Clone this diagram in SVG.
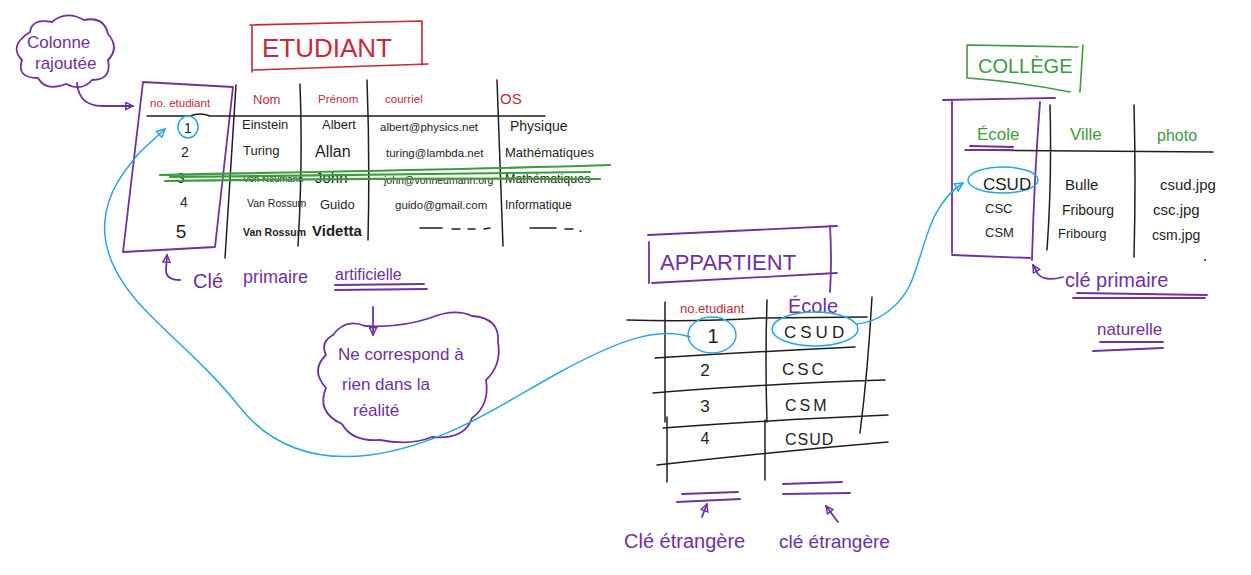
<svg xmlns="http://www.w3.org/2000/svg" width="1251" height="575" viewBox="0 0 1251 575">
<defs>
<style>
text{font-family:"Liberation Sans",Arial,sans-serif;}
.pu{fill:#7030a0;}
.rd{fill:#c42a3a;}
.gr{fill:#3e9b3e;}
.bk{fill:#1e1e1e;}
.lp{stroke:#7030a0;stroke-width:1.8;fill:none;stroke-linecap:round;stroke-linejoin:round;}
.lr{stroke:#c42a3a;stroke-width:1.6;fill:none;stroke-linecap:round;}
.lg{stroke:#3e9b3e;stroke-width:1.6;fill:none;stroke-linecap:round;}
.lk{stroke:#1e1e1e;stroke-width:1.5;fill:none;stroke-linecap:round;}
.lb{stroke:#2aa6df;stroke-width:1.5;fill:none;stroke-linecap:round;}
.strike{stroke:#3e9b3e;stroke-width:2.2;fill:none;stroke-linecap:round;}
</style>
<marker id="ap" viewBox="0 0 10 10" refX="9" refY="5" markerWidth="9" markerHeight="9" markerUnits="userSpaceOnUse" orient="auto">
<path d="M1,1 L9,5 L1,9 Z" fill="none" stroke="#7030a0" stroke-width="1.6"/>
</marker>
<marker id="ab" viewBox="0 0 10 10" refX="9" refY="5" markerWidth="10" markerHeight="10" markerUnits="userSpaceOnUse" orient="auto">
<path d="M1,1 L9,5 L1,9 Z" fill="none" stroke="#2aa6df" stroke-width="1.5"/>
</marker>
</defs>
<rect width="1251" height="575" fill="#ffffff"/>

<g id="cloud-colonne">
<path class="lp" d="M30,32 Q32,18 52,22 Q66,10 84,20 Q104,16 108,34 Q120,48 108,60 Q112,80 92,80 Q82,92 66,84 Q46,92 38,78 Q16,78 22,60 Q8,46 30,32 Z"/>
<text class="pu" x="27" y="48" font-size="17">Colonne</text>
<text class="pu" x="35" y="69" font-size="17">rajoutée</text>
</g>

<g id="etudiant-title">
<path class="lr" d="M250,25 L422,21 M252,25 L252,72 M422,21 L422,65 M252,70 L428,64"/>
<text class="rd" x="262" y="57" font-size="26">ETUDIANT</text>
</g>

<g id="etudiant-table">
<path class="lp" d="M143,82 L233,87 L215,247 L123,252 Z"/>
<path class="lk" d="M147,116 L190,116 Q200,112 210,116 L545,116"/>
<path class="lk" d="M236,85 L225,258 M300,84 Q303,160 298,246 M367,80 Q370,160 368,240 M497,80 Q500,160 503,246"/>
<text class="rd" x="150" y="107" font-size="11.5">no. etudiant</text>
<text class="rd" x="253" y="104" font-size="13">Nom</text>
<text class="rd" x="318" y="103" font-size="11.5">Prénom</text>
<text class="rd" x="385" y="103" font-size="11.5">courriel</text>
<text class="rd" x="500" y="104" font-size="15">OS</text>
<ellipse cx="188" cy="127" rx="10" ry="11" class="lb"/>
<text class="bk" x="188" y="133" font-size="14" text-anchor="middle">1</text>
<text class="bk" x="242" y="129" font-size="13">Einstein</text>
<text class="bk" x="322" y="129" font-size="13">Albert</text>
<text class="bk" x="380" y="131" font-size="11.5">albert@physics.net</text>
<text class="bk" x="510" y="131" font-size="14">Physique</text>
<text class="bk" x="185" y="157" font-size="14" text-anchor="middle">2</text>
<text class="bk" x="243" y="155" font-size="13">Turing</text>
<text class="bk" x="315" y="157" font-size="16">Allan</text>
<text class="bk" x="386" y="157" font-size="11.5">turing@lambda.net</text>
<text class="bk" x="505" y="157" font-size="13">Mathématiques</text>
<text class="bk" x="181" y="183" font-size="14" text-anchor="middle">3</text>
<text class="bk" x="243" y="182" font-size="9.5">Von Neumann</text>
<text class="bk" x="315" y="183" font-size="15">John</text>
<text class="bk" x="384" y="184" font-size="10.5">john@vonneumann.org</text>
<text class="bk" x="505" y="183" font-size="12.5">Mathématiques</text>
<text class="bk" x="184" y="207" font-size="14" text-anchor="middle">4</text>
<text class="bk" x="247" y="207" font-size="10.5">Van Rossum</text>
<text class="bk" x="320" y="209" font-size="13">Guido</text>
<text class="bk" x="395" y="209" font-size="11.5">guido@gmail.com</text>
<text class="bk" x="505" y="209" font-size="12">Informatique</text>
<text class="bk" x="181" y="238" font-size="19" text-anchor="middle">5</text>
<text class="bk" x="243" y="236" font-size="10.5" font-weight="bold">Van Rossum</text>
<text class="bk" x="312" y="236" font-size="15" font-weight="bold">Videtta</text>
<path class="lk" d="M420,228 L442,228 M452,229 L460,229 M468,229 L475,229 M484,229 L490,228 M530,228 L556,228 M565,229 L573,229 M580,231 L581,231"/>
<path class="strike" d="M160,175 C300,172 450,170 610,165 M165,181 C300,179 450,178 600,179 M170,177 C300,176 420,174 590,172"/>
</g>

<g id="cle-artificielle">
<path class="lp" d="M180,280 Q166,280 166,270 L167,255" marker-end="url(#ap)"/>
<text class="pu" x="193" y="288" font-size="20">Clé</text>
<text class="pu" x="243" y="283" font-size="18">primaire</text>
<text class="pu" x="335" y="280" font-size="16">artificielle</text>
<path class="lp" d="M335,285 L424,284 M335,290 L427,289"/>
<path class="lp" d="M373,307 L373,335" marker-end="url(#ap)"/>
</g>

<g id="cloud-realite">
<path class="lp" d="M333,335 Q345,318 365,326 Q400,328 430,318 Q455,308 472,316 Q500,318 498,342 Q502,365 486,380 Q490,405 472,418 Q465,440 432,437 Q410,446 380,440 Q352,442 342,424 Q316,412 326,388 Q310,370 326,355 Q320,342 333,335 Z"/>
<text class="pu" x="338" y="360" font-size="17">Ne correspond à</text>
<text class="pu" x="342" y="390" font-size="17">rien dans la</text>
<text class="pu" x="353" y="416" font-size="17">réalité</text>
</g>

<g id="appartient-title">
<path class="lp" d="M648,235 L837,226 M649,242 L649,283 M652,283 L837,273 M830,226 Q832,260 830,292"/>
<text class="pu" x="660" y="270" font-size="22">APPARTIENT</text>
</g>

<g id="appartient-table">
<text class="rd" x="680" y="313" font-size="13">no.etudiant</text>
<text class="pu" x="788" y="313" font-size="20">École</text>
<path class="lk" d="M627,320 Q700,322 760,318 L867,317 M655,358 Q750,352 855,347 M653,393 Q760,384 885,380 M663,428 Q770,420 888,415 M657,465 Q770,452 888,442"/>
<path class="lk" d="M665,302 L665,422 M667,417 L667,482 M767,300 Q765,360 767,422 M765,420 L765,480 M872,297 Q868,370 860,433"/>
<ellipse cx="712" cy="335" rx="24" ry="18" class="lb"/>
<text class="bk" x="713" y="343" font-size="20" text-anchor="middle">1</text>
<ellipse cx="815" cy="329" rx="43" ry="17" class="lb"/>
<text class="bk" x="784" y="338" font-size="17" letter-spacing="4">CSUD</text>
<text class="bk" x="705" y="376" font-size="17" text-anchor="middle">2</text>
<text class="bk" x="782" y="375" font-size="17" letter-spacing="3">CSC</text>
<text class="bk" x="705" y="412" font-size="17" text-anchor="middle">3</text>
<text class="bk" x="785" y="411" font-size="16" letter-spacing="3">CSM</text>
<text class="bk" x="705" y="444" font-size="16" text-anchor="middle">4</text>
<text class="bk" x="785" y="445" font-size="16" letter-spacing="1">CSUD</text>
</g>

<g id="cle-etrangere">
<path class="lp" d="M682,494 L738,492 M677,502 L740,499 M783,484 L842,482 M783,494 L850,493"/>
<path class="lp" d="M702,517 L707,504" marker-end="url(#ap)"/>
<path class="lp" d="M838,522 L826,506" marker-end="url(#ap)"/>
<text class="pu" x="624" y="548" font-size="20">Clé étrangère</text>
<text class="pu" x="779" y="548" font-size="19">clé étrangère</text>
</g>

<g id="college-title">
<path class="lg" d="M967,45 L1078,47 M967,45 L967,78 M968,78 Q1020,82 1070,92 M1083,45 L1080,92"/>
<text class="gr" x="978" y="73" font-size="20">COLLÈGE</text>
</g>

<g id="college-table">
<path class="lp" d="M943,100 L1055,98 M952,100 L952,253 M952,255 L1030,258 M1040,102 Q1034,180 1032,260"/>
<path class="lk" d="M1050,105 Q1052,180 1047,250 M1134,105 Q1136,180 1134,257 M965,150 L1213,152"/>
<text class="gr" x="977" y="140" font-size="17">École</text>
<path class="lp" d="M970,146 L1013,147 M970,150 L1013,150"/>
<text class="gr" x="1070" y="140" font-size="17">Ville</text>
<text class="gr" x="1157" y="141" font-size="16">photo</text>
<ellipse cx="1003" cy="180" rx="35" ry="13" class="lb"/>
<text class="bk" x="983" y="190" font-size="17">CSUD</text>
<text class="bk" x="1065" y="190" font-size="15">Bulle</text>
<text class="bk" x="1160" y="190" font-size="15">csud.jpg</text>
<text class="bk" x="985" y="213" font-size="13">CSC</text>
<text class="bk" x="1062" y="215" font-size="14">Fribourg</text>
<text class="bk" x="1153" y="215" font-size="15">csc.jpg</text>
<text class="bk" x="985" y="237" font-size="13">CSM</text>
<text class="bk" x="1058" y="238" font-size="13">Fribourg</text>
<text class="bk" x="1152" y="240" font-size="14">csm.jpg</text>
<circle cx="1205" cy="260" r="1" fill="#1e1e1e"/>
</g>

<g id="cle-naturelle">
<path class="lp" d="M1063,277 Q1045,282 1038,274 L1033,265" marker-end="url(#ap)"/>
<text class="pu" x="1065" y="287" font-size="20">clé primaire</text>
<path class="lp" d="M1077,293 L1207,295 M1073,298 L1205,298"/>
<text class="pu" x="1097" y="335" font-size="17">naturelle</text>
<path class="lp" d="M1100,342 L1163,342 M1093,351 L1163,348"/>
</g>

<g id="connectors">
<path class="lp" d="M77,83 Q79,106 102,106 L133,106" marker-end="url(#ap)"/>
<path class="lb" d="M690,337 C655,325 610,345 560,372 C505,402 445,445 370,455 C305,463 265,440 238,405 C212,372 182,347 152,317 C116,282 102,250 105,220 C108,190 125,170 140,152 L165,129" marker-end="url(#ab)"/>
<path class="lb" d="M857,324 C880,322 900,305 910,285 C920,262 925,235 935,215 C943,200 952,190 963,183" marker-end="url(#ab)"/>
</g>
</svg>
